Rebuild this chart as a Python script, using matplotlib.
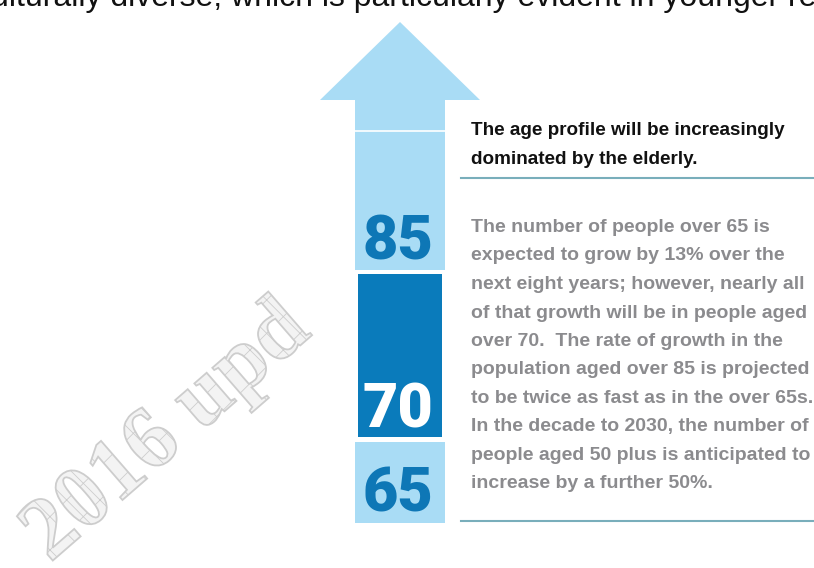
import matplotlib
matplotlib.use("Agg")
import matplotlib.pyplot as plt
from matplotlib.patches import Polygon, Rectangle
import matplotlib.patheffects as pe
from matplotlib import font_manager as fm

# ---- data ----
ages = [85, 70, 65]
age_baselines = [260, 427, 512]
top_text = "culturally diverse, which is particularly evident in younger residents."
heading_lines = ["The age profile will be increasingly",
                 "dominated by the elderly."]
body_lines = ["The number of people over 65 is",
              "expected to grow by 13% over the",
              "next eight years; however, nearly all",
              "of that growth will be in people aged",
              "over 70.  The rate of growth in the",
              "population aged over 85 is projected",
              "to be twice as fast as in the over 65s.",
              "In the decade to 2030, the number of",
              "people aged 50 plus is anticipated to",
              "increase by a further 50%."]
watermark = "2016 upd"

LIGHT = "#a9dcf5"
DARK = "#0a7bbb"
NUM = "#0e77b6"
GREY = "#8b8b8e"
RULE = "#79aebb"

plt.rcParams["hatch.linewidth"] = 0.6

fig = plt.figure(figsize=(8.14, 5.68), dpi=100)
ax = fig.add_axes([0, 0, 1, 1])
ax.set_xlim(0, 814)
ax.set_ylim(568, 0)
ax.axis("off")

# watermark
ax.text(50, 563, watermark, rotation=41, rotation_mode="anchor",
        ha="left", va="baseline", fontsize=64, family="Liberation Serif",
        fontweight="bold", color="#f1f1f1", zorder=1,
        path_effects=[pe.PathPatchEffect(facecolor="#f3f3f3",
                                         edgecolor="#cdcdcd",
                                         hatch="x", linewidth=1.3)])

# top cropped text
fig.canvas.draw()
r = fig.canvas.get_renderer()
TS = 23
tmp = ax.text(0, 0, "culturally ", fontsize=TS, family="Liberation Sans")
w = tmp.get_window_extent(r).width
tmp.remove()
ax.text(110 - w, 6, top_text, fontsize=TS, family="Liberation Sans",
        color="#111111", ha="left", va="baseline")

# arrow
ax.add_patch(Polygon([(320, 100), (480, 100), (400, 22)], closed=True,
                     facecolor=LIGHT, edgecolor="none", zorder=2))
ax.add_patch(Rectangle((355, 99), 90, 171, facecolor=LIGHT,
                       edgecolor="none", zorder=2))
ax.plot([355, 445], [131, 131], color="white", lw=1.2, zorder=3)
ax.add_patch(Rectangle((358, 273.5), 84, 163.5, facecolor=DARK,
                       edgecolor="none", zorder=2))
ax.add_patch(Rectangle((355, 442), 90, 81, facecolor=LIGHT,
                       edgecolor="none", zorder=2))

num_colors = [NUM, "white", NUM]
for a, yb, c in zip(ages, age_baselines, num_colors):
    ax.text(398, yb, str(a), ha="center", va="baseline",
            family=["Roboto", "DejaVu Sans"], fontweight="black",
            fontsize=44, color=c, zorder=4)

# heading
for i, line in enumerate(heading_lines):
    ax.text(471, 135 + 28.5 * i, line, ha="left", va="baseline",
            fontsize=13.6, family="Liberation Sans", fontweight="bold",
            color="#111111")
ax.plot([461, 814], [178, 178], color=RULE, lw=1.5)

for i, line in enumerate(body_lines):
    ax.text(471, 232 + 28.5 * i, line, ha="left", va="baseline",
            fontsize=14.0, family="Liberation Sans", fontweight="bold",
            color=GREY)
ax.plot([461, 814], [521, 521], color=RULE, lw=1.5)

fig.savefig("out.png", dpi=100)
